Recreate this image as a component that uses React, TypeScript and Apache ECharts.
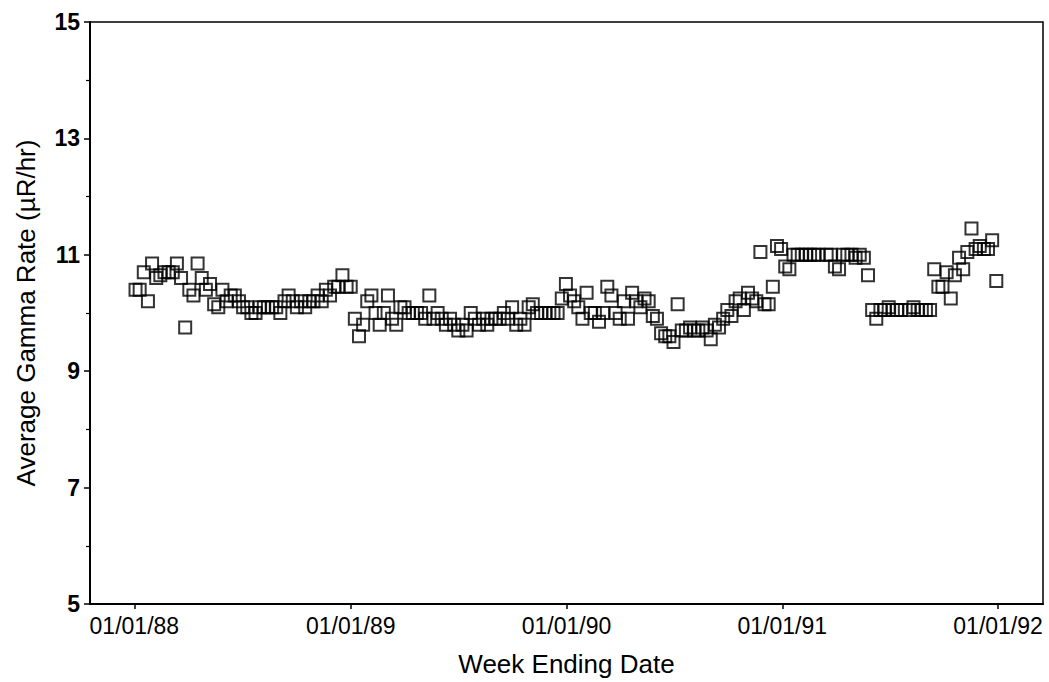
import React, { useEffect, useRef } from "react";
import * as echarts from "echarts";

const DAY = 86400000;
const firstWeekEnding = "1988-01-03";
const xAxisMin = "1987-10-18";
const xAxisMax = "1992-03-17";

const values1988 = [10.4, 10.4, 10.7, 10.2, 10.85, 10.6, 10.65, 10.7, 10.7, 10.7, 10.85, 10.6, 9.75, 10.4, 10.3, 10.85, 10.6, 10.4, 10.5, 10.15, 10.1, 10.4, 10.2, 10.3, 10.3, 10.2, 10.1, 10.1, 10.0, 10.0, 10.1, 10.1, 10.1, 10.1, 10.1, 10.0, 10.2, 10.3, 10.2, 10.1, 10.2, 10.1, 10.2, 10.2, 10.3, 10.2, 10.4, 10.3, 10.45, 10.45, 10.65, 10.45, 10.45];
const values1989 = [9.9, 9.6, 9.8, 10.2, 10.3, 10.0, 9.8, 10.0, 10.3, 9.9, 9.8, 10.1, 10.1, 10.0, 10.0, 10.0, 10.0, 9.9, 10.3, 9.9, 10.0, 9.9, 9.8, 9.9, 9.8, 9.7, 9.8, 9.7, 10.0, 9.9, 9.8, 9.9, 9.8, 9.9, 9.9, 9.9, 10.0, 9.9, 10.1, 9.8, 9.9, 9.8, 10.1, 10.15, 10.0, 10.0, 10.0, 10.0, 10.0, 10.0, 10.25, 10.5];
const values1990 = [10.3, 10.2, 10.1, 9.9, 10.35, 10.0, 10.0, 9.85, 10.0, 10.45, 10.3, 10.0, 9.9, 10.2, 9.9, 10.35, 10.2, 10.1, 10.25, 10.2, 9.95, 9.9, 9.65, 9.6, 9.6, 9.5, 10.15, 9.7, 9.7, 9.75, 9.7, 9.7, 9.75, 9.7, 9.55, 9.8, 9.75, 9.9, 10.05, 9.95, 10.2, 10.25, 10.05, 10.35, 10.25, 10.2, 11.05, 10.15, 10.15, 10.45, 11.15, 11.1];
const values1991 = [10.8, 10.75, 11.0, 11.0, 11.0, 11.0, 11.0, 11.0, 11.0, null, 11.0, 11.0, 10.8, 10.75, 11.0, 11.0, 11.0, 10.95, 11.0, 10.95, 10.65, 10.05, 9.9, 10.05, 10.05, 10.1, 10.05, 10.05, 10.05, null, 10.05, 10.1, 10.05, 10.05, 10.05, 10.05, 10.75, 10.45, 10.45, 10.7, 10.25, 10.65, 10.95, 10.75, 11.05, 11.45, 11.1, 11.15, 11.1, 11.1, 11.25, 10.55];

const xTickDates = ["1988-01-01", "1989-01-01", "1990-01-01", "1991-01-01", "1992-01-01"];
const xTickLabels = ["01/01/88", "01/01/89", "01/01/90", "01/01/91", "01/01/92"];
const yMin = 5;
const yMax = 15;
const yStep = 2;

const FONT = "'Liberation Sans', Arial, Helvetica, sans-serif";

export default function App() {
  const ref = useRef<HTMLDivElement>(null);
  useEffect(() => {
    if (!ref.current) return;
    const chart = echarts.init(ref.current, null, { renderer: "svg" });
    const t0 = Date.parse(firstWeekEnding + "T00:00:00Z");
    const all = [...values1988, ...values1989, ...values1990, ...values1991];
    const data: [number, number][] = [];
    all.forEach((v, i) => {
      if (v !== null && v !== undefined) data.push([t0 + i * 7 * DAY, v as number]);
    });
    const tickTimes = xTickDates.map((d) => Date.parse(d + "T00:00:00Z"));
    chart.setOption({
      animation: false,
      backgroundColor: "#fff",
      grid: {
        left: 90,
        right: 6,
        top: 22,
        bottom: 78,
        show: true,
        borderColor: "#000",
        borderWidth: 1.5,
        containLabel: false,
      },
      xAxis: {
        type: "value",
        min: Date.parse(xAxisMin + "T00:00:00Z"),
        max: Date.parse(xAxisMax + "T00:00:00Z"),
        name: "Week Ending Date",
        nameLocation: "middle",
        nameGap: 47,
        nameTextStyle: { fontFamily: FONT, fontSize: 26, color: "#000" },
        axisLine: { show: true, onZero: false, lineStyle: { color: "#000", width: 2 } },
        axisTick: { show: true, length: 5, customValues: tickTimes, lineStyle: { color: "#000", width: 1.5 } },
        axisLabel: {
          customValues: tickTimes,
          margin: 10,
          fontFamily: FONT,
          fontSize: 23,
          color: "#000",
          formatter: (v: number) => {
            const idx = tickTimes.indexOf(v);
            return idx >= 0 ? xTickLabels[idx] : "";
          },
        },
        splitLine: { show: false },
      },
      yAxis: {
        type: "value",
        min: yMin,
        max: yMax,
        interval: yStep,
        name: "Average Gamma Rate (µR/hr)",
        nameLocation: "middle",
        nameGap: 51,
        nameTextStyle: { fontFamily: FONT, fontSize: 26, color: "#000" },
        axisLine: { show: true, lineStyle: { color: "#000", width: 2 } },
        axisTick: { show: true, length: 6, lineStyle: { color: "#000", width: 1.5 } },
        minorTick: { show: true, splitNumber: 2, length: 4, lineStyle: { color: "#000", width: 1.2 } },
        axisLabel: {
          margin: 10,
          fontFamily: FONT,
          fontSize: 23,
          fontWeight: "bold",
          color: "#000",
        },
        splitLine: { show: false },
      },
      series: [
        {
          type: "scatter",
          data,
          symbol: "rect",
          symbolSize: 12,
          itemStyle: { color: "rgba(0,0,0,0)", borderColor: "#000", borderWidth: 2 },
        },
      ],
    });
    return () => chart.dispose();
  }, []);
  return <div ref={ref} style={{ width: 1049, height: 682, position: "absolute", left: 0, top: 0 }} />;
}
